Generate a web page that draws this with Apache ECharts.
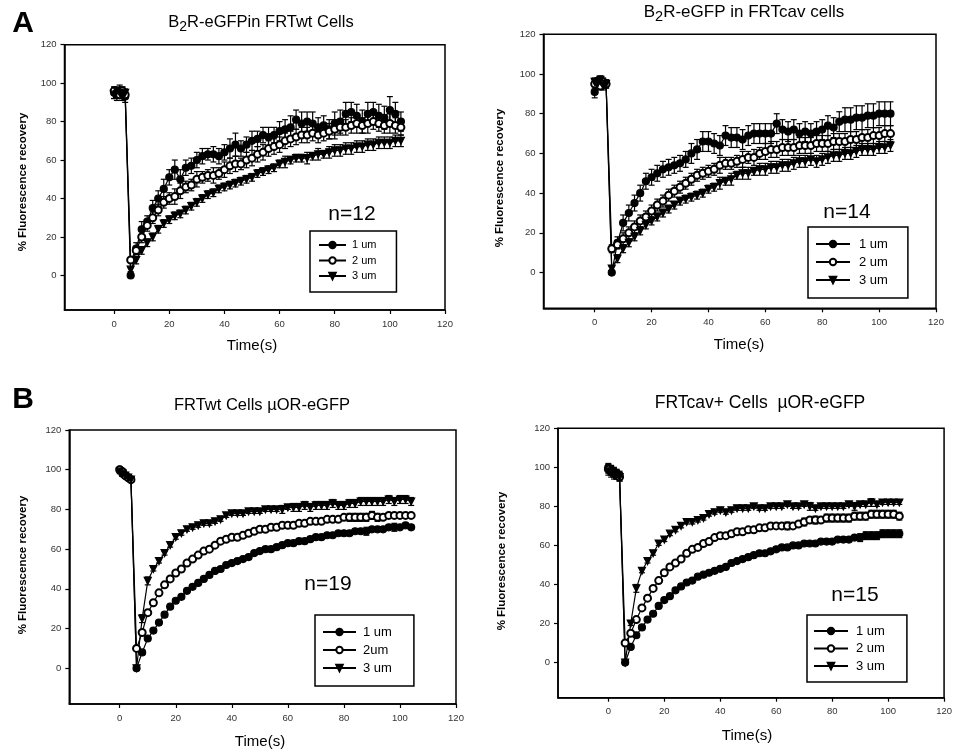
<!DOCTYPE html>
<html>
<head>
<meta charset="utf-8">
<script src="https://cdn.jsdelivr.net/npm/echarts@6/dist/echarts.min.js"></script>
<style>html,body{margin:0;padding:0;background:#fff}#c{width:955px;height:753px}</style>
</head>
<body>
<div id="c"></div>
<script>
// ---------------- DATA ----------------
const times = [0,1,2,3,4,6,8,10,12,14,16,18,20,22,24,26,28,30,32,34,36,38,40,42,44,46,48,50,52,54,56,58,60,62,64,66,68,70,72,74,76,78,80,82,84,86,88,90,92,94,96,98,100,102,104];
const xTicks = [0,20,40,60,80,100,120];
const yTicks = [0,20,40,60,80,100,120];

// Panel A left: B2R-eGFP in FRTwt cells (n=12)
const tl_1um = [95,94,96,95,93, 0,14,24,28,35,40,45,51,55,50, 56,57,60,62,63,63,62,64,66,68, 66,68,70,71,73,72,73,75,76,77, 81,79,80,79,77,78,76,79,80,84, 85,83,80,84,85,83,82,86,84,80];
const tl_1um_err = [3,3,3,3,3, 1,3,4,3,4,4,5,4,5,5, 4,4,4,4,3,4,4,4,5,6, 4,4,5,4,4,5,4,5,5,6, 5,6,5,6,5,5,5,6,6,6, 5,6,6,6,5,6,6,7,6,5];
const tl_2um = [96,95,94,96,94, 8,13,20,26,30,34,38,40,41,44, 46,47,50,51,52,52,53,55,57,58, 58,60,61,63,64,66,67,68,70,71, 72,73,73,74,73,74,75,76,77,77, 78,79,78,79,80,79,78,79,78,77];
const tl_2um_err = [2,2,2,2,2, 1,2,3,3,3,3,3,3,4,4, 3,3,4,3,3,4,3,4,4,4, 3,4,4,4,4,4,4,4,4,4, 4,4,4,4,4,4,4,5,4,4, 4,5,4,5,4,4,4,5,4,4];
const tl_3um = [94,96,95,93,95, 3,8,13,17,20,24,27,29,31,32, 34,36,38,40,42,43,45,46,47,48, 49,50,51,53,54,55,56,58,59,60, 61,61,61,62,63,63,64,65,65,66, 66,67,67,68,68,69,69,69,70,70];
const tl_3um_err = [2,2,2,2,2, 1,2,2,2,2,2,2,2,2,2, 2,2,2,2,2,2,2,2,2,2, 2,2,2,2,2,2,2,2,3,2, 2,2,3,2,3,2,3,3,3,3, 3,3,3,3,3,3,3,3,3,3];

// Panel A right: B2R-eGFP in FRTcav cells (n=14)
const tr_1um = [91,96,97,95,95, 0,15,25,30,35,40,46,48,50,52, 53,54,55,57,60,62,66,66,65,64, 69,68,68,67,69,70,70,70,70,75, 72,71,72,70,71,70,71,72,74,73, 76,77,77,78,78,79,79,80,80,80];
const tr_1um_err = [3,2,2,2,2, 1,3,4,4,4,4,4,4,4,4, 4,4,4,4,5,5,5,5,5,5, 5,5,5,5,5,5,5,5,5,5, 5,5,5,5,5,5,5,5,5,5, 5,6,6,6,6,6,6,6,6,6];
const tr_2um = [95,96,94,96,95, 12,14,17,20,23,26,28,31,34,36, 39,41,43,45,47,49,50,51,52,54, 55,55,56,57,58,58,60,61,62,62, 63,63,63,64,64,64,65,65,65,66, 66,66,67,67,68,68,69,69,70,70];
const tr_2um_err = [2,2,2,2,2, 2,2,3,3,3,3,3,3,3,3, 3,3,3,3,3,3,3,3,3,4, 3,3,3,4,3,4,3,4,4,4, 4,4,4,4,4,4,4,4,4,4, 4,4,4,4,4,4,4,4,4,4];
const tr_3um = [96,95,97,94,95, 2,7,12,15,18,21,24,26,28,30, 32,34,36,37,38,39,40,42,43,45, 46,47,49,50,50,51,52,52,53,53, 54,54,55,56,56,57,56,57,58,59, 59,60,60,61,62,62,62,63,63,64];
const tr_3um_err = [2,2,2,2,2, 1,2,2,2,2,2,2,2,2,2, 2,2,2,2,2,2,2,2,2,3, 2,3,2,3,3,2,3,3,3,3, 3,3,3,3,3,3,3,3,3,3, 3,3,3,3,3,3,3,3,3,3];

// Panel B left: FRTwt cells muOR-eGFP (n=19)
const bl_1um = [100,98,97,96,95, 0,8,15,19,23,27,31,34,36,39, 41,43,45,47,49,50,52,53,54,55, 56,58,59,60,60,61,62,63,63,64, 64,65,66,66,67,67,68,68,68,69, 69,69,70,70,70,71,71,71,72,71];
const bl_1um_err = [1,1,1,1,1, 1,1,1,1,1,1,1,1,1,1, 1,1,1,1,1,1,1,1,1,1, 1,1,1,1,1,1,1,1,1,1, 1,1,1,1,1,1,1,1,1,1, 1,2,1,1,1,1,2,1,1,1];
const bl_2um = [100,99,97,96,95, 10,18,28,33,38,42,45,48,50,53, 55,57,59,60,62,64,65,66,66,67, 68,69,70,70,71,71,72,72,72,73, 73,74,74,74,75,75,75,76,76,76, 76,76,77,76,76,77,77,77,77,77];
const bl_2um_err = [1,1,1,1,1, 1,1,1,1,1,1,1,1,1,1, 1,1,1,1,1,1,1,1,1,1, 1,1,1,1,1,1,1,1,1,1, 1,1,1,1,1,1,1,1,2,2, 2,2,2,2,1,1,1,1,1,1];
const bl_3um = [99,98,97,96,95, 0,25,44,50,54,58,62,66,68,70, 71,72,73,73,74,75,77,78,78,78, 79,79,79,80,80,80,80,81,81,81, 82,81,82,82,82,83,82,82,83,83, 84,84,84,84,84,85,84,85,85,84];
const bl_3um_err = [1,1,1,1,1, 1,2,2,1,1,1,1,1,1,1, 1,1,1,1,1,1,1,1,1,1, 1,1,1,1,1,1,2,1,2,2, 2,2,2,2,2,2,2,2,2,2, 2,2,2,2,2,2,2,2,2,2];

// Panel B right: FRTcav+ cells muOR-eGFP (n=15)
const br_1um = [100,99,98,97,96, 0,8,14,18,22,25,29,32,34,37, 39,41,42,44,45,46,47,48,49,51, 52,53,54,55,56,56,57,58,59,59, 60,60,61,61,61,62,62,62,63,63, 63,64,64,65,65,65,66,66,66,66];
const br_1um_err = [2,2,2,2,2, 1,1,1,1,1,1,1,1,1,1, 1,1,1,1,1,1,1,1,1,1, 1,1,1,1,1,1,1,1,1,1, 1,1,1,1,1,1,1,1,1,1, 1,1,2,2,2,2,2,2,2,2];
const br_2um = [99,98,97,96,95, 10,15,22,28,33,38,42,46,49,51, 53,56,58,59,61,62,64,65,65,66, 67,67,68,68,69,69,70,70,70,70, 70,71,72,73,73,73,74,74,74,74, 74,75,75,75,76,76,76,76,76,75];
const br_2um_err = [2,2,2,2,2, 1,1,1,1,1,1,1,1,1,1, 1,1,1,1,1,1,1,1,1,1, 1,1,1,1,1,1,1,1,1,2, 1,1,2,1,2,1,2,2,2,2, 2,2,2,2,2,2,2,2,2,2];
const br_3um = [98,97,96,96,95, 0,20,38,47,52,56,61,63,66,68, 70,72,72,73,74,76,77,78,77,78, 79,79,79,80,79,79,80,80,80,81, 80,80,81,80,79,80,80,80,80,80, 81,80,81,81,82,81,82,82,82,82];
const br_3um_err = [2,2,2,2,2, 1,1,2,1,1,1,1,1,1,1, 1,1,1,1,1,1,1,1,1,1, 1,1,1,1,1,1,1,1,1,1, 1,1,1,2,1,1,1,1,1,1, 1,2,1,1,2,1,1,1,1,1];

const titles = ['{m|B}{s|2}{m|R-eGFPin FRTwt Cells}', '{m|B}{s|2}{m|R-eGFP in FRTcav cells}', '{m|FRTwt Cells µOR-eGFP}', '{m|FRTcav+ Cells  µOR-eGFP}'];
const nLabels = ['n=12', 'n=14', 'n=19', 'n=15'];
const legendNames = [['1 um','2 um','3 um'], ['1 um','2 um','3 um'], ['1 um','2um','3 um'], ['1 um','2 um','3 um']];
const yTitle = '% Fluorescence recovery';
const xTitle = 'Time(s)';

// ---------------- LAYOUT ----------------
const FONT = '"Liberation Sans", Arial, sans-serif';
const panels = [
  {grid:{left:64.5, top:44.7, width:380.5, height:265.3}, data:[tl_1um,tl_2um,tl_3um], err:[tl_1um_err,tl_2um_err,tl_3um_err],
   title:[261,22], tfs:16.5, n:[352,214], yt:[23,182], xt:[252,346],
   legend:{left:310, top:231, fs:11, lh:14, gap:1.5, iw:27, pad:[7,20,9,8], tp:1}},
  {grid:{left:543.5, top:34.3, width:392.5, height:274}, data:[tr_1um,tr_2um,tr_3um], err:[tr_1um_err,tr_2um_err,tr_3um_err],
   title:[744,12], tfs:17, n:[847,212], yt:[500,178], xt:[739,345],
   legend:{left:808, top:227, fs:13, lh:16, gap:2, iw:34, pad:[9,20,10,7], tp:4}},
  {grid:{left:69.3, top:430, width:386.7, height:274}, data:[bl_1um,bl_2um,bl_3um], err:[bl_1um_err,bl_2um_err,bl_3um_err],
   title:[262,405], tfs:16.5, n:[328,584], yt:[23,565], xt:[260,742],
   legend:{left:315, top:615, fs:13, lh:16, gap:2, iw:33, pad:[9,22,10,7], tp:2}},
  {grid:{left:558, top:428.3, width:386.3, height:269.4}, data:[br_1um,br_2um,br_3um], err:[br_1um_err,br_2um_err,br_3um_err],
   title:[760,403], tfs:17.5, n:[855,595], yt:[502,561], xt:[747,736],
   legend:{left:807, top:615, fs:13, lh:16, gap:1.5, iw:34, pad:[8,22,8,6], tp:3}}
];
const symbols = [{symbol:'circle', rot:0}, {symbol:'emptyCircle', rot:0}, {symbol:'triangle', rot:180}];

const chart = echarts.init(document.getElementById('c'), null, {renderer:'canvas'});
const option = {
  backgroundColor:'#fff', animation:false,
  grid:[], xAxis:[], yAxis:[], series:[], legend:[], graphic:[]
};

function errRender(params, api) {
  const x = api.value(0), y = api.value(1), e = api.value(2);
  const top = api.coord([x, y + e]);
  const bot = api.coord([x, y - e]);
  const cw = 3;
  const st = {stroke:'#000', lineWidth:1.2};
  return {type:'group', children:[
    {type:'line', shape:{x1:top[0], y1:top[1], x2:bot[0], y2:bot[1]}, style:st},
    {type:'line', shape:{x1:top[0]-cw, y1:top[1], x2:top[0]+cw, y2:top[1]}, style:st},
    {type:'line', shape:{x1:bot[0]-cw, y1:bot[1], x2:bot[0]+cw, y2:bot[1]}, style:st}
  ]};
}

panels.forEach((p, i) => {
  option.grid.push(Object.assign({show:true, borderColor:'#000', borderWidth:1.5, backgroundColor:'transparent'}, p.grid));
  option.xAxis.push({type:'value', gridIndex:i, min:-18, max:120,
    axisLine:{onZero:false, lineStyle:{color:'#000', width:1.5}},
    axisTick:{customValues:xTicks, length:4, inside:false, lineStyle:{color:'#000', width:1.2}},
    axisLabel:{customValues:xTicks, margin:9, fontSize:9.5, color:'#333', fontFamily:FONT},
    splitLine:{show:false}});
  option.yAxis.push({type:'value', gridIndex:i, min:-18, max:120,
    axisLine:{onZero:false, lineStyle:{color:'#000', width:1.5}},
    axisTick:{customValues:yTicks, length:4, inside:false, lineStyle:{color:'#000', width:1.2}},
    axisLabel:{customValues:yTicks, margin:8, fontSize:9.5, color:'#333', fontFamily:FONT},
    splitLine:{show:false}});
  const names = legendNames[i];
  p.data.forEach((vals, k) => {
    const ev = p.err[k];
    option.series.push({type:'custom', name:'err'+i+'_'+k, xAxisIndex:i, yAxisIndex:i, z:2, silent:true,
      renderItem:errRender, encode:{x:0, y:1},
      data: times.map((t, j) => [t, vals[j], ev[j]])});
  });
  p.data.forEach((vals, k) => {
    option.series.push({type:'line', name:names[k], xAxisIndex:i, yAxisIndex:i, z:3,
      symbol:symbols[k].symbol, symbolRotate:symbols[k].rot, symbolSize:7, showAllSymbol:true,
      itemStyle:{color:'#000', borderColor:'#000', borderWidth:1.2},
      lineStyle:{color:'#000', width:1.2},
      data: times.map((t, j) => [t, vals[j]])});
  });
  const L = p.legend;
  option.legend.push({orient:'vertical', left:L.left, top:L.top, data:names,
    itemWidth:L.iw, itemHeight:8, itemGap:L.gap, padding:L.pad,
    borderColor:'#000', borderWidth:1.5, backgroundColor:'#fff',
    selectedMode:false,
    textStyle:{fontSize:L.fs, lineHeight:L.lh, color:'#000', fontFamily:FONT, padding:[0,0,0,L.tp]}});
  // texts
  option.graphic.push({type:'text', x:p.title[0], y:p.title[1], style:{text:titles[i], align:'center', verticalAlign:'middle', fill:'#000',
    fontSize:p.tfs, fontFamily:FONT,
    rich:{m:{fontSize:p.tfs, lineHeight:24, verticalAlign:'middle', fontFamily:FONT, fill:'#000'},
          s:{fontSize:p.tfs-2.5, lineHeight:13, verticalAlign:'bottom', fontFamily:FONT, fill:'#000'}}}});
  option.graphic.push({type:'text', x:p.n[0], y:p.n[1], style:{text:nLabels[i], align:'center', verticalAlign:'middle', fill:'#000', fontSize:21, fontFamily:FONT}});
  option.graphic.push({type:'text', x:p.yt[0], y:p.yt[1], rotation:Math.PI/2, style:{text:yTitle, align:'center', verticalAlign:'middle', fill:'#000', fontSize:11.5, fontWeight:'bold', fontFamily:FONT}});
  option.graphic.push({type:'text', x:p.xt[0], y:p.xt[1], style:{text:xTitle, align:'center', verticalAlign:'middle', fill:'#000', fontSize:15, fontFamily:FONT}});
});
option.graphic.push({type:'text', x:23, y:24, style:{text:'A', align:'center', verticalAlign:'middle', fill:'#000', fontSize:30, fontWeight:'bold', fontFamily:FONT}});
option.graphic.push({type:'text', x:23, y:400, style:{text:'B', align:'center', verticalAlign:'middle', fill:'#000', fontSize:30, fontWeight:'bold', fontFamily:FONT}});

chart.setOption(option);
</script>
</body>
</html>
